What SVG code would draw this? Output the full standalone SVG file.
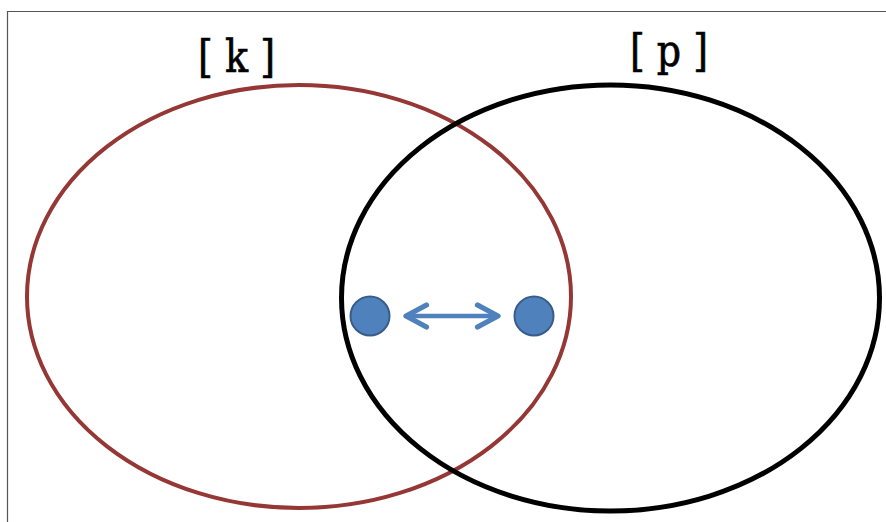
<svg xmlns="http://www.w3.org/2000/svg" width="886" height="522" viewBox="0 0 886 522">
<defs>
<style>
.lbl{font-family:"DejaVu Serif","Liberation Serif",serif;font-size:45px;fill:#000;stroke:#000;stroke-width:0.7;}
.dot{fill:#4F81BD;stroke:#385D8A;stroke-width:2;}
</style>
<marker id="ah" viewBox="0 0 20 20" refX="17" refY="10" markerWidth="6.5" markerHeight="6.5" orient="auto-start-reverse" markerUnits="strokeWidth">
<path d="M3,2.5 L17,10 L3,17.5" fill="none" stroke="#4F81BD" stroke-width="3.6" stroke-linecap="round" stroke-linejoin="round"/>
</marker>
</defs>
<rect width="886" height="522" fill="#fff"/>
<path d="M7.5,530 V11.5 H900" fill="none" stroke="#555" stroke-width="1.2"/>
<g id="set-k">
<ellipse cx="299" cy="296.5" rx="272" ry="211.5" fill="none" stroke="#953735" stroke-width="4"/>
<text class="lbl" x="198" y="72" textLength="77" lengthAdjust="spacingAndGlyphs">[ k ]</text>
</g>
<g id="set-p">
<ellipse cx="610.5" cy="298" rx="269" ry="213" fill="none" stroke="#000" stroke-width="5"/>
<text class="lbl" x="630" y="66" textLength="78" lengthAdjust="spacingAndGlyphs">[ p ]</text>
</g>
<g id="dot-left"><circle class="dot" cx="370" cy="316" r="19.5"/></g>
<g id="dot-right"><circle class="dot" cx="534" cy="316" r="19.5"/></g>
<g id="connectors">
<line x1="406" y1="316" x2="498" y2="316" stroke="#4F81BD" stroke-width="4.5" marker-start="url(#ah)" marker-end="url(#ah)"/>
</g>
</svg>
